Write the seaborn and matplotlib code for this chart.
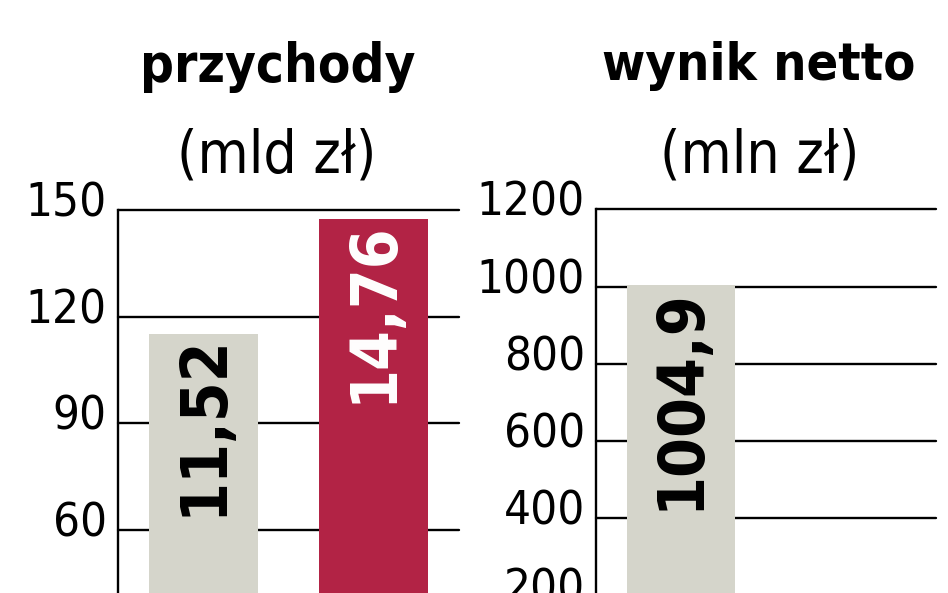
import matplotlib
matplotlib.use("Agg")
import matplotlib.pyplot as plt
import matplotlib.transforms as mtransforms
import seaborn as sns
import pandas as pd

# dane
lata = ["rok poprzedni", "rok bieżący"]
przychody = [11.52, 14.76]          # mld zł
przychody_os = [v * 10 for v in przychody]   # skala osi na grafice (0-150)
wynik_lata = ["rok poprzedni"]
wynik_netto = [1004.9]              # mln zł

przychody_ticks = [0, 30, 60, 90, 120, 150]
wynik_ticks = [0, 200, 400, 600, 800, 1000, 1200]

szary = "#d5d5cb"
czerwony = "#b22345"

sns.set_style("white")
plt.rcParams['font.family'] = ['DejaVu Sans']
plt.rcParams['font.stretch'] = 'condensed'
plt.rcParams['text.color'] = 'black'
plt.rcParams['ytick.color'] = 'black'

W, H = 948, 593
fig = plt.figure(figsize=(W / 100, H / 100), dpi=100)


def ax_from_px(x0, x1, y_top, y_zero):
    return fig.add_axes([x0 / W, 1 - y_zero / H, (x1 - x0) / W, (y_zero - y_top) / H])


def style_axis(ax, ticks, ymax):
    ax.set_ylim(0, ymax)
    ax.set_xlim(-0.5, 1.5)
    ax.set_yticks(ticks)
    ax.set_xticks([])
    ax.set_xlabel("")
    ax.set_ylabel("")
    ax.set_axisbelow(True)
    ax.grid(axis="y", color="black", linewidth=1.7, clip_on=False)
    for side in ["top", "right", "bottom"]:
        ax.spines[side].set_visible(False)
    ax.spines["left"].set_color("black")
    ax.spines["left"].set_linewidth(1.7)
    ax.tick_params(axis="y", length=0, pad=8, labelsize=34, labelcolor="black")
    shift = mtransforms.ScaledTranslation(0, 11 / 100, fig.dpi_scale_trans)
    for lab in ax.get_yticklabels():
        lab.set_transform(lab.get_transform() + shift)
        lab.set_fontstretch("condensed")


def bar_labels(ax, values, texts, colors, gaps):
    for i, (v, t, c, g) in enumerate(zip(values, texts, colors, gaps)):
        off = mtransforms.offset_copy(ax.transData, fig=fig, x=0, y=-g, units="dots")
        ax.text(i, v, t, rotation=90, ha="center", va="top", transform=off,
                fontsize=46, fontweight="bold", fontstretch="condensed", color=c)


# panel lewy - przychody
ax1 = ax_from_px(118, 459, 210, 743.5)
df1 = pd.DataFrame({"rok": lata, "wartosc": przychody_os})
sns.barplot(data=df1, x="rok", y="wartosc", hue="rok", order=lata, hue_order=lata,
            palette=[szary, czerwony], width=0.64, legend=False, ax=ax1,
            saturation=1, edgecolor="none")
style_axis(ax1, przychody_ticks, 150)
bar_labels(ax1, przychody_os, [f"{v:.2f}".replace(".", ",") for v in przychody],
           ["black", "white"], [0, 3])

# panel prawy - wynik netto
ax2 = ax_from_px(596, 936, 209.3, 673)
df2 = pd.DataFrame({"rok": wynik_lata, "wartosc": wynik_netto})
sns.barplot(data=df2, x="rok", y="wartosc", hue="rok", order=lata, hue_order=lata,
            palette=[szary, czerwony], width=0.64, legend=False, ax=ax2,
            saturation=1, edgecolor="none")
style_axis(ax2, wynik_ticks, 1200)
bar_labels(ax2, wynik_netto, [f"{v:.1f}".replace(".", ",") for v in wynik_netto],
           ["black"], [4])

# tytuły
fig.text(278 / W, 1 - 82 / H, "przychody", ha="center", va="baseline",
         fontsize=38, fontweight="bold", fontstretch="condensed")
fig.text(277 / W, 1 - 173 / H, "(mld zł)", ha="center", va="baseline",
         fontsize=42, fontstretch="condensed")
fig.text(759 / W, 1 - 80 / H, "wynik netto", ha="center", va="baseline",
         fontsize=37.5, fontweight="bold", fontstretch="condensed")
fig.text(760 / W, 1 - 172 / H, "(mln zł)", ha="center", va="baseline",
         fontsize=42, fontstretch="condensed")

fig.savefig("out.png", dpi=100, facecolor="white")
